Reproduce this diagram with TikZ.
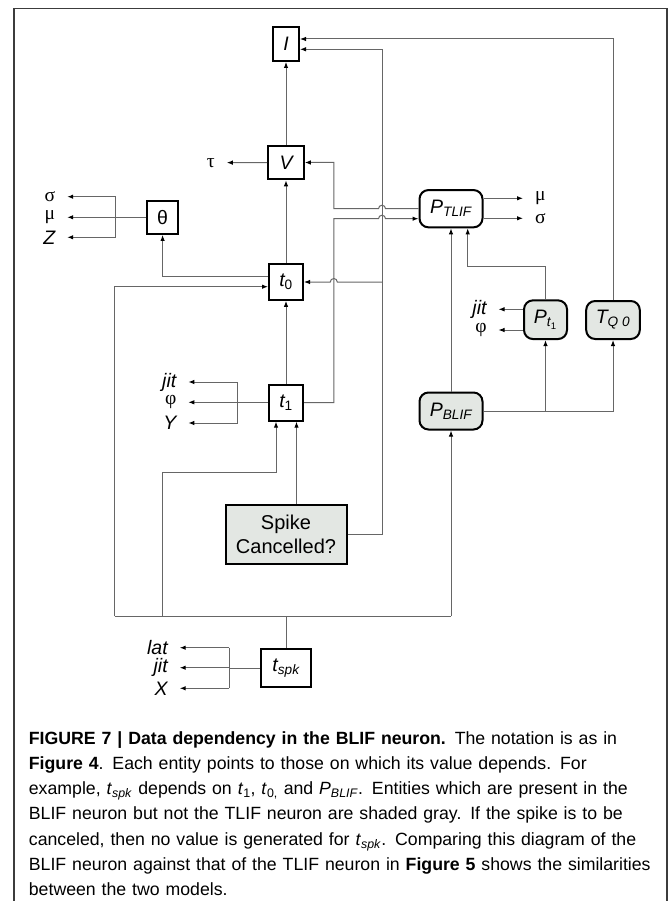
\documentclass[tikz,border=0pt]{standalone}
\usepackage{fontspec}
\setmainfont{Liberation Sans}
\newfontfamily\griega{Liberation Serif}
\definecolor{blifGris}{HTML}{E3E7E3}
\definecolor{blifLinea}{HTML}{666666}
\definecolor{blifMarco}{HTML}{3C3C3C}
\usetikzlibrary{
	arrows.meta,
	positioning,
	calc
}
\tikzset{
	entidad/.style={
		draw=black,
		line width=2pt,
		fill=white,
		inner sep=0pt,
		align=center,
		font=\fontsize{19.5}{22}\selectfont\itshape
	},
	entidadRedonda/.style={
		entidad,
		rounded corners=9pt
	},
	sombreada/.style={
		fill=blifGris
	},
	linea/.style={
		blifLinea,
		line width=1pt
	},
	flecha/.style={
		linea,
		-{Latex[length=6pt,width=4.5pt,color=black]}
	},
	etiqueta/.style={
		inner sep=0pt,
		outer xsep=12pt,
		font=\fontsize{19.5}{22}\selectfont\itshape
	},
	letraGriega/.style={
		etiqueta,
		font=\fontsize{19.5}{22}\selectfont\griega
	},
	salto/.style={
		radius=3.5pt
	}
}
\newcommand{\Sub}[2]{\textit{#1}\textsubscript{#2}}

\begin{document}
\begin{tikzpicture}[x=1pt,y=-1pt]
		\useasboundingbox (0,0) rectangle (670,901);
		\draw[blifMarco, line width=1.2pt] (14,901) -- (14,8.3) -- (667,8.3) -- (667,901);
		\node[entidad, minimum width=26pt, minimum height=34pt] (I) at (286,44) {I};
		\node[entidad, minimum width=35.6pt, minimum height=33.6pt] (V) at (286,162.5) {V};
		\node[entidad, minimum width=34pt, minimum height=35.7pt] (t0) at (286,282) {\Sub{t}{\textup{0}}};
		\node[entidad, minimum width=34pt, minimum height=36pt] (t1) at (286,402.7) {\Sub{t}{\textup{1}}};
		\node[entidad, minimum width=50.7pt, minimum height=38.6pt] (tspk) at (286,668) {\Sub{t}{spk}};
		\node[entidad, minimum width=30.6pt, minimum height=33.3pt, font=\fontsize{19.5}{22}\selectfont] (theta) at (162.6,217.3) {θ};
		\node[entidadRedonda, minimum width=63pt, minimum height=37.3pt] (PTLIF) at (451,208.7) {\Sub{P}{TLIF}};
		\node[entidadRedonda, sombreada, minimum width=63pt, minimum height=37pt] (PBLIF) at (451,411) {\Sub{P}{BLIF}};
		\node[entidadRedonda, sombreada, minimum width=43pt, minimum height=38.7pt] (Pt1) at (545.5,319.7) {\Sub{P}{\Sub{t}{\textup{1}}}};
		\node[entidadRedonda, sombreada, minimum width=53.6pt, minimum height=38pt] (TQ0) at (613,320) {\Sub{T}{Q 0}};
		\node[entidad, sombreada, minimum width=121pt, minimum height=59pt, font=\fontsize{20}{23.5}\selectfont] (spike) at (286,534.5) {Spike\\Cancelled?};
		\node[letraGriega, anchor=east] (tau) at (226.8,162.7) {τ};
		\node[letraGriega, anchor=east] (sg1) at (67.2,196.7) {σ};
		\node[letraGriega, anchor=east] (mu1) at (67.2,217.3) {μ};
		\node[etiqueta, anchor=east] (Zt) at (67.2,237.3) {Z};
		\node[letraGriega, anchor=west] (mu2) at (523,198.3) {μ};
		\node[letraGriega, anchor=west] (sg2) at (523,218.3) {σ};
		\node[etiqueta, anchor=east] (jitP) at (498.5,309.3) {jit};
		\node[letraGriega, anchor=east] (phiP) at (498.5,330) {φ};
		\node[etiqueta, anchor=east] (jitU) at (188.3,382) {jit};
		\node[letraGriega, anchor=east] (phiU) at (188.3,402.3) {φ};
		\node[etiqueta, anchor=east] (Yu) at (188.3,423) {Y};
		\node[etiqueta, anchor=east] (latS) at (179.7,647.7) {lat};
		\node[etiqueta, anchor=east] (jitS) at (179.7,667.7) {jit};
		\node[etiqueta, anchor=east] (Xs) at (179.7,688.3) {X};
		\node[anchor=base west, inner sep=0pt, text width=640pt, align=left, font=\fontsize{17.7}{25.3}\selectfont] (pie) at (28.7,744) {\textbf{FIGURE 7 | Data dependency in the BLIF neuron.} The notation is as in\\
			\textbf{Figure 4}. Each entity points to those on which its value depends. For\\
			example, \Sub{t}{\textit{spk}} depends on \Sub{t}{1}, \Sub{t}{0,} and \Sub{P}{\textit{BLIF}}. Entities which are present in the\\
			BLIF neuron but not the TLIF neuron are shaded gray. If the spike is to be\\
			canceled, then no value is generated for \Sub{t}{\textit{spk}}. Comparing this diagram of the\\
			BLIF neuron against that of the TLIF neuron in \textbf{Figure 5} shows the similarities\\
			between the two models.};
		\coordinate (colA) at (333.8,0);
		\coordinate (colB) at (382,0);
		\coordinate (llaveT) at (115.5,0);
		\coordinate (llaveU) at (237.5,0);
		\coordinate (llaveS) at (229,0);
		\coordinate (bus) at (286,616);
		\coordinate (busIzq) at (114.7,616);
		\coordinate (busMed) at (162.6,616);
		\coordinate (IinA) at ([yshift=5pt]I.east);
		\coordinate (IinB) at ([yshift=-5.3pt]I.east);
		\coordinate (PinB) at ([yshift=-10pt]PTLIF.west);
		\coordinate (PTin) at ([xshift=16.7pt]PTLIF.south);
		\coordinate (cruceA) at (PTLIF.west -| colB);
		\coordinate (cruceB) at (PinB -| colB);
		\coordinate (cruceC) at (t0.east -| colA);
		\draw[flecha] (V.north) -- (I.south);
		\draw[flecha] (t0.north) -- (V.south);
		\draw[flecha] (t1.north) -- (t0.south);
		\draw[flecha] (TQ0.north) |- (IinA);
		\draw[flecha] (spike.east) -| (IinB -| colB) -- (IinB);
		\draw[flecha] (t0.east -| colB) -- ([xshift=3.5pt]cruceC) arc[salto, start angle=0, end angle=180] -- (t0.east);
		\draw[flecha] (PTLIF.west) -- ([xshift=3.5pt]cruceA) arc[salto, start angle=0, end angle=180] -- (PTLIF.west -| colA) |- (V.east);
		\draw[flecha] (t1.east) -| (PinB -| colA) -- ([xshift=-3.5pt]cruceB) arc[salto, start angle=180, end angle=0] -- (PinB);
		\draw[flecha] (PTLIF.east |- mu2) -- (mu2);
		\draw[flecha] (PTLIF.east |- sg2) -- (sg2);
		\draw[flecha] (Pt1.north) -- ++(0,-32.6) -| (PTin);
		\draw[flecha] (PBLIF.north) -- (PTLIF.south);
		\draw[flecha] (PBLIF.east) -| (TQ0.south);
		\draw[flecha] (PBLIF.east -| Pt1.south) -- (Pt1.south);
		\draw[flecha] (Pt1.west |- jitP) -- (jitP);
		\draw[flecha] (Pt1.west |- phiP) -- (phiP);
		\draw[flecha] (V.west) -- (tau);
		\draw[flecha] ([yshift=5.3pt]t0.west) -| (theta.south);
		\draw[linea] (theta.west) -- (theta.west -| llaveT);
		\draw[linea] (sg1 -| llaveT) -- (Zt -| llaveT);
		\foreach \e in {sg1,mu1,Zt} \draw[flecha] (\e -| llaveT) -- (\e);
		\draw[linea] (t1.west) -- (t1.west -| llaveU);
		\draw[linea] (jitU -| llaveU) -- (Yu -| llaveU);
		\foreach \e in {jitU,phiU,Yu} \draw[flecha] (\e -| llaveU) -- (\e);
		\draw[linea] (tspk.west) -- (tspk.west -| llaveS);
		\draw[linea] (latS -| llaveS) -- (Xs -| llaveS);
		\foreach \e in {latS,jitS,Xs} \draw[flecha] (\e -| llaveS) -- (\e);
		\draw[linea] (tspk.north) -- (bus);
		\draw[linea] (busIzq) -- (PBLIF.south |- bus);
		\draw[flecha] (PBLIF.south |- bus) -- (PBLIF.south);
		\draw[flecha] (busIzq) |- ([yshift=-4.7pt]t0.west);
		\draw[flecha] (busMed) -- ++(0,-143.7) -| ([xshift=-10pt]t1.south);
		\draw[flecha] ([xshift=10.5pt]spike.north) -- ([xshift=10.5pt]t1.south);
	\end{tikzpicture}
\end{document}
